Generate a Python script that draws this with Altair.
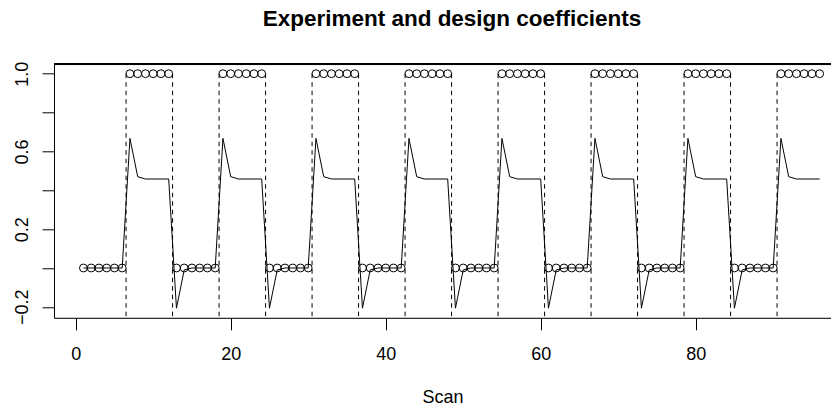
import altair as alt
import pandas as pd

# ---- data ----
scan = list(range(1, 97))

stimulus = [
    0, 0, 0, 0, 0, 0, 1, 1, 1, 1, 1, 1,
    0, 0, 0, 0, 0, 0, 1, 1, 1, 1, 1, 1,
    0, 0, 0, 0, 0, 0, 1, 1, 1, 1, 1, 1,
    0, 0, 0, 0, 0, 0, 1, 1, 1, 1, 1, 1,
    0, 0, 0, 0, 0, 0, 1, 1, 1, 1, 1, 1,
    0, 0, 0, 0, 0, 0, 1, 1, 1, 1, 1, 1,
    0, 0, 0, 0, 0, 0, 1, 1, 1, 1, 1, 1,
    0, 0, 0, 0, 0, 0, 1, 1, 1, 1, 1, 1,
]

response = [
    0, 0, 0, 0, 0, 0, 0.667, 0.47, 0.458, 0.458, 0.458, 0.458,
    -0.207, -0.01, 0, 0, 0, 0, 0.667, 0.47, 0.458, 0.458, 0.458, 0.458,
    -0.207, -0.01, 0, 0, 0, 0, 0.667, 0.47, 0.458, 0.458, 0.458, 0.458,
    -0.207, -0.01, 0, 0, 0, 0, 0.667, 0.47, 0.458, 0.458, 0.458, 0.458,
    -0.207, -0.01, 0, 0, 0, 0, 0.667, 0.47, 0.458, 0.458, 0.458, 0.458,
    -0.207, -0.01, 0, 0, 0, 0, 0.667, 0.47, 0.458, 0.458, 0.458, 0.458,
    -0.207, -0.01, 0, 0, 0, 0, 0.667, 0.47, 0.458, 0.458, 0.458, 0.458,
    -0.207, -0.01, 0, 0, 0, 0, 0.667, 0.47, 0.458, 0.458, 0.458, 0.458,
]

block_edges = [6.5, 12.5, 18.5, 24.5, 30.5, 36.5, 42.5, 48.5,
               54.5, 60.5, 66.5, 72.5, 78.5, 84.5, 90.5]

x_ticks = [0, 20, 40, 60, 80]
y_ticks = [-0.2, 0.0, 0.2, 0.4, 0.6, 0.8, 1.0]

# the reference plot box runs past the right edge of the picture
x_domain = [-2.8, 97.46]
y_domain = [-0.2564, 1.0484]

FONT = "Liberation Sans"

df = pd.DataFrame({"scan": scan, "stimulus": stimulus, "response": response})
edges = pd.DataFrame({"edge": block_edges,
                      "top": [1.0] * len(block_edges),
                      "bottom": [y_domain[0]] * len(block_edges)})

xscale = alt.Scale(domain=x_domain, nice=False, zero=False)
yscale = alt.Scale(domain=y_domain, nice=False, zero=False)

xaxis = alt.Axis(
    values=x_ticks, title="Scan", grid=False,
    domain=True, domainColor="black", domainWidth=1,
    tickSize=12, tickColor="black", tickWidth=1,
    labelFont=FONT, labelFontSize=18, labelColor="black",
    labelBaseline="alphabetic", labelPadding=30, labelFlush=False,
    labelOverlap=False,
    titleFont=FONT, titleFontSize=18, titleFontWeight="normal",
    titleColor="black", titleBaseline="alphabetic", titleY=85,
)

yaxis = alt.Axis(
    values=y_ticks, title=None, grid=False,
    domain=True, domainColor="black", domainWidth=1,
    tickSize=12, tickColor="black", tickWidth=1,
    labelFont=FONT, labelFontSize=18, labelColor="black",
    labelAngle=270, labelAlign="center", labelBaseline="alphabetic",
    labelPadding=15, labelFlush=False, labelOverlap=False,
    labelExpr="(abs(datum.value) < 0.01 || abs(datum.value - 0.4) < 0.01 || abs(datum.value - 0.8) < 0.01) ? '' : format(datum.value, '.1f')",
)

base = alt.Chart(df)

rules = alt.Chart(edges).mark_rule(
    color="black", strokeWidth=1, strokeDash=[4.5, 4], clip=True
).encode(
    x=alt.X("edge:Q", scale=xscale, axis=xaxis),
    y=alt.Y("top:Q", scale=yscale, axis=yaxis),
    y2="bottom:Q",
)

# top edge of the plot box (no right edge: it lies outside the reference picture)
top_border = alt.Chart(df).mark_rule(color="black", strokeWidth=1).encode(
    x=alt.datum(x_domain[0], scale=xscale),
    x2=alt.datum(x_domain[1]),
    y=alt.datum(y_domain[1], scale=yscale),
)

line = base.mark_line(color="black", strokeWidth=1, clip=True).encode(
    x=alt.X("scan:Q", scale=xscale),
    y=alt.Y("response:Q", scale=yscale),
)

points = base.mark_point(
    shape="circle", filled=False, color="black", size=62, strokeWidth=1, opacity=1
).encode(
    x=alt.X("scan:Q", scale=xscale),
    y=alt.Y("stimulus:Q", scale=yscale),
)

chart = alt.layer(rules, top_border, line, points).properties(
    width=777,
    height=253.5,
    title=alt.TitleParams(
        text="Experiment and design coefficients",
        font=FONT, fontSize=22.5, fontWeight="bold", color="black",
        anchor="middle", frame="group", baseline="alphabetic",
        offset=13, dx=9.5,
    ),
    autosize=alt.AutoSizeParams(type="none"),
    padding={"left": 46, "top": 56.3, "right": 0, "bottom": 86},
).configure_view(
    stroke=None
).configure(background="white")

chart.save("out.html", embed_options={"renderer": "svg", "actions": False})
